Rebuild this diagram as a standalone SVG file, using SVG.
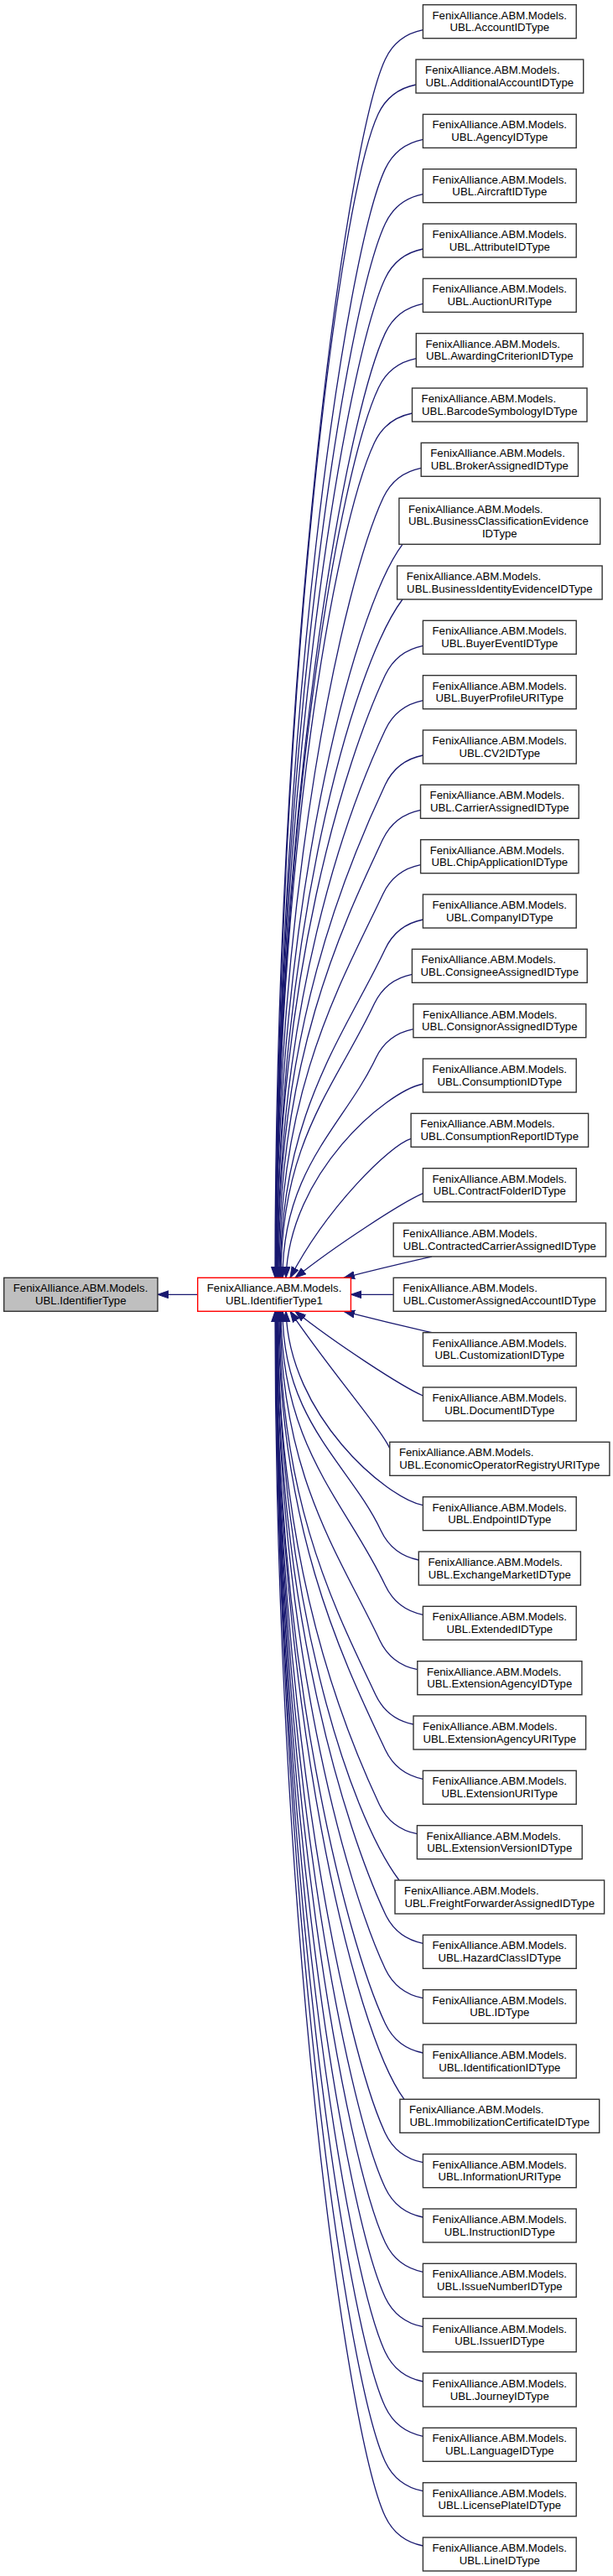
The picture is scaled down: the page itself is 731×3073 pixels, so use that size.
<svg xmlns="http://www.w3.org/2000/svg" width="731" height="3073" viewBox="0 0 731 3073">
<style>
.node rect{fill:#ffffff;stroke:#333333;stroke-width:1.4}
#identifiertype rect{fill:#bfbfbf}
#identifiertype1 rect{stroke:#ff0000}
text{font-family:"Liberation Sans",Arial,Helvetica,sans-serif;font-size:13.2px;fill:#000000}
text.c{text-anchor:middle}
#edges path{fill:none;stroke:#191970;stroke-width:1.3;marker-end:url(#ah)}
</style>
<defs>
<marker id="ah" markerWidth="16" markerHeight="12" refX="13" refY="5" orient="auto" markerUnits="userSpaceOnUse">
<path d="M0,0.5 L13,5 L0,9.5 z" fill="#191970" stroke="#191970" stroke-width="1"/>
</marker>
</defs>
<rect width="731" height="3073" fill="#ffffff"/>
<g id="edges">
<path d="M235.7,1544.3 L188,1544.3"/>
<path d="M504.4,35.7 C484.4,39.7 468.4,51.7 459.4,70.7 C412.4,170.7 328,797.5 328,1524.3"/>
<path d="M496,101 C476,105 460,117 451,136 C404,236 329,830.1 329,1524.3"/>
<path d="M504.4,166.4 C484.4,170.4 468.4,182.4 459.4,201.4 C412.4,301.4 329,862.8 329,1524.3"/>
<path d="M504.4,231.7 C484.4,235.7 468.4,247.7 459.4,266.7 C412.4,366.7 329,895.5 329,1524.3"/>
<path d="M504.4,297 C484.4,301 468.4,313 459.4,332 C412.4,432 329,928.2 329,1524.3"/>
<path d="M504.4,362.4 C484.4,366.4 468.4,378.4 459.4,397.4 C412.4,497.4 329,960.9 329,1524.3"/>
<path d="M496.3,427.7 C476.3,431.7 460.3,443.7 451.3,462.7 C404.3,562.7 329,993.5 329,1524.3"/>
<path d="M491.5,493 C471.5,497 455.5,509 446.5,528 C399.5,628 329,1026.2 329,1524.3"/>
<path d="M502.2,558.3 C482.2,562.3 466.2,574.3 457.2,593.3 C410.2,693.3 329,1058.8 329,1524.3"/>
<path d="M480,649.3 C420,729 329,1086.8 329,1524.3"/>
<path d="M480,715 C420,795 330,1119.8 330,1524.3"/>
<path d="M504.4,770.3 C484.4,774.3 468.4,786.3 459.4,805.3 C412.4,905.3 330,1164.8 330,1524.3"/>
<path d="M504.4,835.7 C484.4,839.7 468.4,851.7 459.4,870.7 C412.4,970.7 331,1197.5 331,1524.3"/>
<path d="M504.4,901 C484.4,905 468.4,917 459.4,936 C412.4,1036 331,1230.2 331,1524.3"/>
<path d="M501.5,966.3 C481.5,970.3 465.5,982.3 456.5,1001.3 C409.5,1101.3 332,1262.8 332,1524.3"/>
<path d="M501.6,1031.7 C481.6,1035.7 465.6,1047.7 456.6,1066.7 C409.6,1166.7 333,1295.5 333,1524.3"/>
<path d="M504.4,1097 C484.4,1101 468.4,1113 459.4,1132 C412.4,1232 334,1328.2 334,1524.3"/>
<path d="M491.4,1162.3 C471.4,1166.3 455.4,1178.3 446.4,1197.3 C400.3,1295.4 335,1360.8 335,1524.3"/>
<path d="M492.9,1227.7 C472.9,1231.7 456.9,1243.7 447.9,1262.7 C411,1341.2 337,1393.5 337,1524.3"/>
<path d="M504.4,1293 C460,1302 345,1400 341,1524.3"/>
<path d="M490.1,1358.3 C465,1366 390,1440 346,1524.3"/>
<path d="M504.4,1423.7 C480,1434 400,1486 352,1524.3"/>
<path d="M515,1499 C480,1507 450,1514 410,1524.3"/>
<path d="M469.2,1544.3 L418.4,1544.3"/>
<path d="M515,1589.7 C480,1581.7 450,1574.5 410,1564.3"/>
<path d="M504.4,1665 C480,1654.6 400,1602.6 352,1564.3"/>
<path d="M464.8,1728 C455,1705 390,1630 346,1564.3"/>
<path d="M504.4,1795.7 C460,1786.7 345,1688.6 341,1564.3"/>
<path d="M499.3,1861 C479.3,1857 463.3,1845 454.3,1826 C417.4,1747.5 337,1695.2 337,1564.3"/>
<path d="M504.4,1926.3 C484.4,1922.3 468.4,1910.3 459.4,1891.3 C413.3,1793.2 335,1727.8 335,1564.3"/>
<path d="M497.8,1991.7 C477.8,1987.7 461.8,1975.7 452.8,1956.7 C405.8,1856.7 334,1760.5 334,1564.3"/>
<path d="M493,2057 C473,2053 457,2041 448,2022 C401,1922 333,1793.2 333,1564.3"/>
<path d="M504.4,2122.3 C484.4,2118.3 468.4,2106.3 459.4,2087.3 C412.4,1987.3 332,1825.8 332,1564.3"/>
<path d="M497.4,2187.7 C477.4,2183.7 461.4,2171.7 452.4,2152.7 C405.4,2052.7 331,1858.5 331,1564.3"/>
<path d="M476,2243 C416,2163 331,1903.7 331,1564.3"/>
<path d="M504.4,2318.3 C484.4,2314.3 468.4,2302.3 459.4,2283.3 C412.4,2183.3 330,1923.8 330,1564.3"/>
<path d="M504.4,2383.7 C484.4,2379.7 468.4,2367.7 459.4,2348.7 C412.4,2248.7 330,1956.5 330,1564.3"/>
<path d="M504.4,2449 C484.4,2445 468.4,2433 459.4,2414 C412.4,2314 329,1989.2 329,1564.3"/>
<path d="M482,2504.3 C422,2424.3 329,2034.3 329,1564.3"/>
<path d="M504.4,2579.7 C484.4,2575.7 468.4,2563.7 459.4,2544.7 C412.4,2444.7 329,2054.5 329,1564.3"/>
<path d="M504.4,2645 C484.4,2641 468.4,2629 459.4,2610 C412.4,2510 329,2087.2 329,1564.3"/>
<path d="M504.4,2710.3 C484.4,2706.3 468.4,2694.3 459.4,2675.3 C412.4,2575.3 329,2119.8 329,1564.3"/>
<path d="M504.4,2775.7 C484.4,2771.7 468.4,2759.7 459.4,2740.7 C412.4,2640.7 329,2152.5 329,1564.3"/>
<path d="M504.4,2841 C484.4,2837 468.4,2825 459.4,2806 C412.4,2706 329,2185.2 329,1564.3"/>
<path d="M504.4,2906.3 C484.4,2902.3 468.4,2890.3 459.4,2871.3 C412.4,2771.3 329,2217.8 329,1564.3"/>
<path d="M504.4,2971.7 C484.4,2967.7 468.4,2955.7 459.4,2936.7 C412.4,2836.7 329,2250.5 329,1564.3"/>
<path d="M504.4,3037 C484.4,3033 468.4,3021 459.4,3002 C412.4,2902 328,2283.2 328,1564.3"/>
</g>
<g id="identifiertype" class="node"><rect x="4.7" y="1524.3" width="183.3" height="40"/><text x="15.8" y="1541.3">FenixAlliance.ABM.Models.</text><text class="c" x="96.3" y="1556">UBL.IdentifierType</text></g>
<g id="identifiertype1" class="node"><rect x="235.7" y="1524.3" width="182.7" height="40"/><text x="246.8" y="1541.3">FenixAlliance.ABM.Models.</text><text class="c" x="327" y="1556">UBL.IdentifierType1</text></g>
<g id="n1" class="node"><rect x="504.4" y="5.7" width="182.8" height="40"/><text x="515.5" y="22.7">FenixAlliance.ABM.Models.</text><text class="c" x="595.8" y="37.4">UBL.AccountIDType</text></g>
<g id="n2" class="node"><rect x="496" y="71" width="199.7" height="40"/><text x="507.1" y="88">FenixAlliance.ABM.Models.</text><text class="c" x="595.8" y="102.7">UBL.AdditionalAccountIDType</text></g>
<g id="n3" class="node"><rect x="504.4" y="136.4" width="182.8" height="40"/><text x="515.5" y="153.4">FenixAlliance.ABM.Models.</text><text class="c" x="595.8" y="168.1">UBL.AgencyIDType</text></g>
<g id="n4" class="node"><rect x="504.4" y="201.7" width="182.8" height="40"/><text x="515.5" y="218.7">FenixAlliance.ABM.Models.</text><text class="c" x="595.8" y="233.4">UBL.AircraftIDType</text></g>
<g id="n5" class="node"><rect x="504.4" y="267" width="182.8" height="40"/><text x="515.5" y="284">FenixAlliance.ABM.Models.</text><text class="c" x="595.8" y="298.7">UBL.AttributeIDType</text></g>
<g id="n6" class="node"><rect x="504.4" y="332.4" width="182.8" height="40"/><text x="515.5" y="349.4">FenixAlliance.ABM.Models.</text><text class="c" x="595.8" y="364.1">UBL.AuctionURIType</text></g>
<g id="n7" class="node"><rect x="496.3" y="397.7" width="199" height="40"/><text x="507.4" y="414.7">FenixAlliance.ABM.Models.</text><text class="c" x="595.8" y="429.4">UBL.AwardingCriterionIDType</text></g>
<g id="n8" class="node"><rect x="491.5" y="463" width="208.5" height="40"/><text x="502.6" y="480">FenixAlliance.ABM.Models.</text><text class="c" x="595.8" y="494.7">UBL.BarcodeSymbologyIDType</text></g>
<g id="n9" class="node"><rect x="502.2" y="528.3" width="187.3" height="40"/><text x="513.3" y="545.3">FenixAlliance.ABM.Models.</text><text class="c" x="595.8" y="560">UBL.BrokerAssignedIDType</text></g>
<g id="n10" class="node"><rect x="475.9" y="594.3" width="239.8" height="55"/><text x="487" y="611.5">FenixAlliance.ABM.Models.</text><text x="487" y="626.2">UBL.BusinessClassificationEvidence</text><text class="c" x="595.8" y="640.9">IDType</text></g>
<g id="n11" class="node"><rect x="473.6" y="675" width="244.5" height="40"/><text x="484.7" y="692">FenixAlliance.ABM.Models.</text><text class="c" x="595.8" y="706.7">UBL.BusinessIdentityEvidenceIDType</text></g>
<g id="n12" class="node"><rect x="504.4" y="740.3" width="182.8" height="40"/><text x="515.5" y="757.3">FenixAlliance.ABM.Models.</text><text class="c" x="595.8" y="772">UBL.BuyerEventIDType</text></g>
<g id="n13" class="node"><rect x="504.4" y="805.7" width="182.8" height="40"/><text x="515.5" y="822.7">FenixAlliance.ABM.Models.</text><text class="c" x="595.8" y="837.4">UBL.BuyerProfileURIType</text></g>
<g id="n14" class="node"><rect x="504.4" y="871" width="182.8" height="40"/><text x="515.5" y="888">FenixAlliance.ABM.Models.</text><text class="c" x="595.8" y="902.7">UBL.CV2IDType</text></g>
<g id="n15" class="node"><rect x="501.5" y="936.3" width="188.7" height="40"/><text x="512.6" y="953.3">FenixAlliance.ABM.Models.</text><text class="c" x="595.8" y="968">UBL.CarrierAssignedIDType</text></g>
<g id="n16" class="node"><rect x="501.6" y="1001.7" width="188.4" height="40"/><text x="512.7" y="1018.7">FenixAlliance.ABM.Models.</text><text class="c" x="595.8" y="1033.4">UBL.ChipApplicationIDType</text></g>
<g id="n17" class="node"><rect x="504.4" y="1067" width="182.8" height="40"/><text x="515.5" y="1084">FenixAlliance.ABM.Models.</text><text class="c" x="595.8" y="1098.7">UBL.CompanyIDType</text></g>
<g id="n18" class="node"><rect x="491.4" y="1132.3" width="208.8" height="40"/><text x="502.5" y="1149.3">FenixAlliance.ABM.Models.</text><text class="c" x="595.8" y="1164">UBL.ConsigneeAssignedIDType</text></g>
<g id="n19" class="node"><rect x="492.9" y="1197.7" width="205.9" height="40"/><text x="504" y="1214.7">FenixAlliance.ABM.Models.</text><text class="c" x="595.8" y="1229.4">UBL.ConsignorAssignedIDType</text></g>
<g id="n20" class="node"><rect x="504.4" y="1263" width="182.8" height="40"/><text x="515.5" y="1280">FenixAlliance.ABM.Models.</text><text class="c" x="595.8" y="1294.7">UBL.ConsumptionIDType</text></g>
<g id="n21" class="node"><rect x="490.1" y="1328.3" width="211.5" height="40"/><text x="501.2" y="1345.3">FenixAlliance.ABM.Models.</text><text class="c" x="595.8" y="1360">UBL.ConsumptionReportIDType</text></g>
<g id="n22" class="node"><rect x="504.4" y="1393.7" width="182.8" height="40"/><text x="515.5" y="1410.7">FenixAlliance.ABM.Models.</text><text class="c" x="595.8" y="1425.4">UBL.ContractFolderIDType</text></g>
<g id="n23" class="node"><rect x="469.2" y="1459" width="253.3" height="40"/><text x="480.3" y="1476">FenixAlliance.ABM.Models.</text><text class="c" x="595.8" y="1490.7">UBL.ContractedCarrierAssignedIDType</text></g>
<g id="n24" class="node"><rect x="469.2" y="1524.3" width="253.3" height="40"/><text x="480.3" y="1541.3">FenixAlliance.ABM.Models.</text><text class="c" x="595.8" y="1556">UBL.CustomerAssignedAccountIDType</text></g>
<g id="n25" class="node"><rect x="504.4" y="1589.7" width="182.8" height="40"/><text x="515.5" y="1606.7">FenixAlliance.ABM.Models.</text><text class="c" x="595.8" y="1621.4">UBL.CustomizationIDType</text></g>
<g id="n26" class="node"><rect x="504.4" y="1655" width="182.8" height="40"/><text x="515.5" y="1672">FenixAlliance.ABM.Models.</text><text class="c" x="595.8" y="1686.7">UBL.DocumentIDType</text></g>
<g id="n27" class="node"><rect x="464.8" y="1720.3" width="262.1" height="40"/><text x="475.9" y="1737.3">FenixAlliance.ABM.Models.</text><text class="c" x="595.8" y="1752">UBL.EconomicOperatorRegistryURIType</text></g>
<g id="n28" class="node"><rect x="504.4" y="1785.7" width="182.8" height="40"/><text x="515.5" y="1802.7">FenixAlliance.ABM.Models.</text><text class="c" x="595.8" y="1817.4">UBL.EndpointIDType</text></g>
<g id="n29" class="node"><rect x="499.3" y="1851" width="193.1" height="40"/><text x="510.4" y="1868">FenixAlliance.ABM.Models.</text><text class="c" x="595.8" y="1882.7">UBL.ExchangeMarketIDType</text></g>
<g id="n30" class="node"><rect x="504.4" y="1916.3" width="182.8" height="40"/><text x="515.5" y="1933.3">FenixAlliance.ABM.Models.</text><text class="c" x="595.8" y="1948">UBL.ExtendedIDType</text></g>
<g id="n31" class="node"><rect x="497.8" y="1981.7" width="196.1" height="40"/><text x="508.9" y="1998.7">FenixAlliance.ABM.Models.</text><text class="c" x="595.8" y="2013.4">UBL.ExtensionAgencyIDType</text></g>
<g id="n32" class="node"><rect x="493" y="2047" width="205.6" height="40"/><text x="504.1" y="2064">FenixAlliance.ABM.Models.</text><text class="c" x="595.8" y="2078.7">UBL.ExtensionAgencyURIType</text></g>
<g id="n33" class="node"><rect x="504.4" y="2112.3" width="182.8" height="40"/><text x="515.5" y="2129.3">FenixAlliance.ABM.Models.</text><text class="c" x="595.8" y="2144">UBL.ExtensionURIType</text></g>
<g id="n34" class="node"><rect x="497.4" y="2177.7" width="196.8" height="40"/><text x="508.5" y="2194.7">FenixAlliance.ABM.Models.</text><text class="c" x="595.8" y="2209.4">UBL.ExtensionVersionIDType</text></g>
<g id="n35" class="node"><rect x="471" y="2243" width="249.6" height="40"/><text x="482.1" y="2260">FenixAlliance.ABM.Models.</text><text class="c" x="595.8" y="2274.7">UBL.FreightForwarderAssignedIDType</text></g>
<g id="n36" class="node"><rect x="504.4" y="2308.3" width="182.8" height="40"/><text x="515.5" y="2325.3">FenixAlliance.ABM.Models.</text><text class="c" x="595.8" y="2340">UBL.HazardClassIDType</text></g>
<g id="n37" class="node"><rect x="504.4" y="2373.7" width="182.8" height="40"/><text x="515.5" y="2390.7">FenixAlliance.ABM.Models.</text><text class="c" x="595.8" y="2405.4">UBL.IDType</text></g>
<g id="n38" class="node"><rect x="504.4" y="2439" width="182.8" height="40"/><text x="515.5" y="2456">FenixAlliance.ABM.Models.</text><text class="c" x="595.8" y="2470.7">UBL.IdentificationIDType</text></g>
<g id="n39" class="node"><rect x="476.9" y="2504.3" width="237.8" height="40"/><text x="488" y="2521.3">FenixAlliance.ABM.Models.</text><text class="c" x="595.8" y="2536">UBL.ImmobilizationCertificateIDType</text></g>
<g id="n40" class="node"><rect x="504.4" y="2569.7" width="182.8" height="40"/><text x="515.5" y="2586.7">FenixAlliance.ABM.Models.</text><text class="c" x="595.8" y="2601.4">UBL.InformationURIType</text></g>
<g id="n41" class="node"><rect x="504.4" y="2635" width="182.8" height="40"/><text x="515.5" y="2652">FenixAlliance.ABM.Models.</text><text class="c" x="595.8" y="2666.7">UBL.InstructionIDType</text></g>
<g id="n42" class="node"><rect x="504.4" y="2700.3" width="182.8" height="40"/><text x="515.5" y="2717.3">FenixAlliance.ABM.Models.</text><text class="c" x="595.8" y="2732">UBL.IssueNumberIDType</text></g>
<g id="n43" class="node"><rect x="504.4" y="2765.7" width="182.8" height="40"/><text x="515.5" y="2782.7">FenixAlliance.ABM.Models.</text><text class="c" x="595.8" y="2797.4">UBL.IssuerIDType</text></g>
<g id="n44" class="node"><rect x="504.4" y="2831" width="182.8" height="40"/><text x="515.5" y="2848">FenixAlliance.ABM.Models.</text><text class="c" x="595.8" y="2862.7">UBL.JourneyIDType</text></g>
<g id="n45" class="node"><rect x="504.4" y="2896.3" width="182.8" height="40"/><text x="515.5" y="2913.3">FenixAlliance.ABM.Models.</text><text class="c" x="595.8" y="2928">UBL.LanguageIDType</text></g>
<g id="n46" class="node"><rect x="504.4" y="2961.7" width="182.8" height="40"/><text x="515.5" y="2978.7">FenixAlliance.ABM.Models.</text><text class="c" x="595.8" y="2993.4">UBL.LicensePlateIDType</text></g>
<g id="n47" class="node"><rect x="504.4" y="3027" width="182.8" height="40"/><text x="515.5" y="3044">FenixAlliance.ABM.Models.</text><text class="c" x="595.8" y="3058.7">UBL.LineIDType</text></g>
</svg>
